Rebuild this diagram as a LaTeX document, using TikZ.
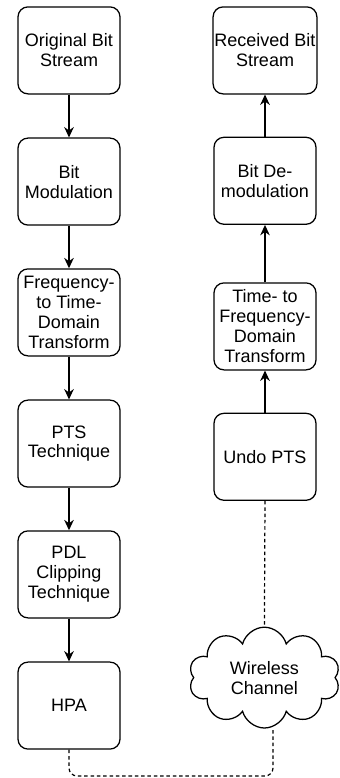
\documentclass[tikz,border=0pt]{standalone}
\usepackage{fontspec}
\setmainfont{Liberation Sans}
\usetikzlibrary{shapes,arrows,positioning,calc,arrows.meta,shapes.symbols}

\tikzset{
    blk/.style={draw, line width=0.9pt, rounded corners=0.25cm, minimum width=2.55cm,
        minimum height=2.175cm, align=center, inner xsep=1pt, inner ysep=0pt,
        font=\fontsize{12.8}{14.2}\selectfont},
    flow/.style={line width=0.9pt, -{Stealth[length=2.6mm,width=2.4mm]}},
    link/.style={line width=0.85pt, dash pattern=on 2.5pt off 2pt, rounded corners=0.2cm}
}

\begin{document}
\begin{tikzpicture}[node distance=1.5cm, auto]
    \useasboundingbox (0,0) rectangle (8.5,19.45);

    % sending side
    \foreach \n/\y/\txt in {1/18.19/{Original Bit\\Stream}, 2/14.91/{Bit\\Modulation},
        3/11.64/{Frequency-\\to Time-\\Domain\\Transform}, 4/8.36/{PTS\\Technique},
        5/5.09/{PDL\\Clipping\\Technique}, 6/1.81/{HPA}}
        \node[blk] (tx\n) at (1.725,\y) {\txt};

    % receiving side
    \foreach \n/\y/\txt in {1/18.19/{Received Bit\\Stream}, 2/14.93/{Bit De-\\modulation},
        3/11.29/{Time- to\\Frequency-\\Domain\\Transform}, 4/8.03/{Undo PTS}}
        \node[blk] (rx\n) at (6.625,\y) {\txt};

    \node[cloud, draw, line width=0.9pt, cloud puffs=10, cloud ignores aspect,
        minimum width=3.78cm, minimum height=2.52cm, align=center,
        font=\fontsize{12.8}{14.2}\selectfont] (chan) at (6.61,2.51) {Wireless\\Channel};

    \foreach \a/\b in {1/2, 2/3, 3/4, 4/5, 5/6}
        \draw[flow] (tx\a) -- (tx\b);
    \foreach \a/\b in {4/3, 3/2, 2/1}
        \draw[flow] (rx\a) -- (rx\b);

    % channel
    \coordinate (gnd) at (6.825,0.05);
    \draw[link] (tx6.south) |- (gnd) -- (gnd |- chan.south);
    \draw[link] (rx4.south) -- (chan.north);
\end{tikzpicture}
\end{document}
